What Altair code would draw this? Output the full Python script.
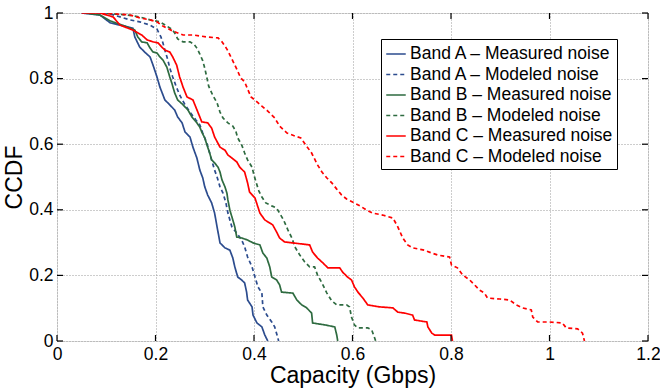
import altair as alt
import pandas as pd

# ---- data (Capacity in Gbps, CCDF) ----
a_meas_x = [0.05, 0.087, 0.108, 0.154, 0.158, 0.168, 0.178, 0.189, 0.195, 0.203, 0.209, 0.219, 0.229, 0.239, 0.245,
            0.254, 0.260, 0.270, 0.276, 0.284, 0.290, 0.296, 0.300, 0.306, 0.314, 0.320, 0.325, 0.331, 0.341, 0.351,
            0.357, 0.361, 0.367, 0.375, 0.381, 0.385, 0.387, 0.396, 0.398, 0.406, 0.416, 0.422, 0.428]
a_meas_y = [1.0, 0.994, 0.970, 0.954, 0.927, 0.896, 0.881, 0.866, 0.841, 0.805, 0.774, 0.735, 0.720, 0.704, 0.683,
            0.665, 0.637, 0.622, 0.591, 0.558, 0.521, 0.497, 0.470, 0.445, 0.421, 0.390, 0.348, 0.299, 0.284, 0.277,
            0.253, 0.226, 0.195, 0.186, 0.177, 0.149, 0.125, 0.104, 0.079, 0.055, 0.043, 0.018, 0.0]

a_mod_x = [0.08, 0.101, 0.128, 0.148, 0.168, 0.189, 0.203, 0.211, 0.215, 0.219, 0.225, 0.229, 0.235, 0.241, 0.249,
           0.260, 0.270, 0.282, 0.290, 0.296, 0.304, 0.310, 0.314, 0.320, 0.325, 0.331, 0.337, 0.343, 0.347, 0.355,
           0.365, 0.375, 0.381, 0.387, 0.396, 0.402, 0.408, 0.416, 0.418, 0.426, 0.436, 0.442, 0.448, 0.450]
a_mod_y = [1.0, 1.0, 0.988, 0.979, 0.973, 0.963, 0.951, 0.927, 0.909, 0.887, 0.857, 0.832, 0.805, 0.780, 0.750,
           0.720, 0.698, 0.674, 0.659, 0.634, 0.604, 0.573, 0.552, 0.521, 0.500, 0.470, 0.451, 0.421, 0.390, 0.348,
           0.329, 0.308, 0.287, 0.256, 0.226, 0.195, 0.165, 0.146, 0.104, 0.079, 0.058, 0.043, 0.012, 0.0]

b_meas_x = [0.057, 0.087, 0.108, 0.138, 0.158, 0.164, 0.172, 0.183, 0.189, 0.195, 0.203, 0.209, 0.215, 0.223, 0.229,
            0.233, 0.239, 0.245, 0.256, 0.266, 0.274, 0.284, 0.290, 0.294, 0.300, 0.306, 0.310, 0.314, 0.320, 0.327,
            0.331, 0.335, 0.341, 0.345, 0.347, 0.351, 0.357, 0.361, 0.365, 0.375, 0.387, 0.398, 0.412, 0.418, 0.426,
            0.432, 0.436, 0.446, 0.452, 0.456, 0.479, 0.487, 0.497, 0.507, 0.517, 0.519, 0.544, 0.564, 0.568, 0.570]
b_meas_y = [1.0, 0.994, 0.976, 0.960, 0.948, 0.927, 0.912, 0.909, 0.893, 0.881, 0.878, 0.866, 0.857, 0.835, 0.805,
            0.787, 0.756, 0.735, 0.720, 0.704, 0.683, 0.665, 0.652, 0.637, 0.619, 0.591, 0.573, 0.552, 0.543, 0.530,
            0.515, 0.491, 0.470, 0.451, 0.430, 0.399, 0.369, 0.348, 0.317, 0.314, 0.308, 0.299, 0.293, 0.268, 0.253,
            0.226, 0.195, 0.186, 0.171, 0.149, 0.146, 0.125, 0.110, 0.101, 0.085, 0.055, 0.049, 0.043, 0.018, 0.0]

b_mod_x = [0.087, 0.142, 0.168, 0.189, 0.209, 0.223, 0.233, 0.239, 0.245, 0.256, 0.270, 0.278, 0.284, 0.290, 0.296,
           0.300, 0.304, 0.308, 0.316, 0.325, 0.331, 0.337, 0.347, 0.357, 0.363, 0.367, 0.375, 0.381, 0.387, 0.396,
           0.400, 0.404, 0.410, 0.416, 0.424, 0.436, 0.446, 0.452, 0.460, 0.469, 0.477, 0.483, 0.493, 0.503, 0.513,
           0.523, 0.529, 0.538, 0.548, 0.558, 0.568, 0.588, 0.594, 0.598, 0.604, 0.611, 0.631, 0.639, 0.645, 0.647]
b_mod_y = [1.0, 0.994, 0.988, 0.979, 0.973, 0.960, 0.951, 0.939, 0.921, 0.912, 0.912, 0.905, 0.893, 0.875, 0.854,
           0.832, 0.805, 0.777, 0.750, 0.726, 0.698, 0.680, 0.665, 0.655, 0.640, 0.619, 0.598, 0.573, 0.552, 0.530,
           0.506, 0.485, 0.457, 0.439, 0.421, 0.412, 0.405, 0.390, 0.369, 0.338, 0.314, 0.287, 0.262, 0.241, 0.226,
           0.226, 0.201, 0.177, 0.146, 0.122, 0.110, 0.110, 0.104, 0.073, 0.049, 0.040, 0.040, 0.034, 0.009, 0.0]

c_meas_x = [0.05, 0.087, 0.114, 0.128, 0.154, 0.172, 0.183, 0.195, 0.205, 0.213, 0.219, 0.229, 0.235, 0.243, 0.249,
            0.256, 0.264, 0.276, 0.294, 0.306, 0.314, 0.320, 0.331, 0.341, 0.347, 0.355, 0.365, 0.371, 0.381, 0.387,
            0.391, 0.402, 0.412, 0.422, 0.438, 0.446, 0.452, 0.462, 0.479, 0.513, 0.519, 0.529, 0.540, 0.550, 0.574,
            0.580, 0.590, 0.598, 0.604, 0.611, 0.621, 0.631, 0.655, 0.682, 0.692, 0.706, 0.722, 0.726, 0.751, 0.753,
            0.761, 0.767, 0.801, 0.803]
c_meas_y = [1.0, 1.0, 0.988, 0.963, 0.948, 0.933, 0.918, 0.912, 0.909, 0.896, 0.887, 0.881, 0.866, 0.841, 0.805,
            0.774, 0.744, 0.735, 0.668, 0.665, 0.649, 0.622, 0.591, 0.582, 0.567, 0.558, 0.546, 0.530, 0.515, 0.482,
            0.454, 0.436, 0.390, 0.369, 0.354, 0.332, 0.314, 0.302, 0.299, 0.293, 0.271, 0.253, 0.238, 0.223, 0.223,
            0.210, 0.195, 0.186, 0.165, 0.149, 0.131, 0.110, 0.104, 0.101, 0.088, 0.085, 0.079, 0.064, 0.058, 0.043,
            0.024, 0.018, 0.018, 0.0]

c_mod_x = [0.09, 0.148, 0.168, 0.189, 0.203, 0.215, 0.235, 0.256, 0.276, 0.304, 0.327, 0.335, 0.345, 0.355, 0.365,
           0.373, 0.381, 0.387, 0.394, 0.404, 0.416, 0.428, 0.442, 0.452, 0.467, 0.483, 0.495, 0.505, 0.517, 0.529,
           0.538, 0.548, 0.558, 0.568, 0.578, 0.588, 0.600, 0.615, 0.629, 0.641, 0.661, 0.682, 0.692, 0.702, 0.712,
           0.722, 0.746, 0.761, 0.773, 0.797, 0.801, 0.813, 0.824, 0.838, 0.848, 0.858, 0.868, 0.874, 0.899, 0.919,
           0.933, 0.945, 0.963, 0.966, 0.976, 1.000, 1.026, 1.034, 1.057, 1.067, 1.071]
c_mod_y = [1.0, 0.994, 0.985, 0.979, 0.973, 0.960, 0.945, 0.933, 0.933, 0.927, 0.924, 0.912, 0.890, 0.860, 0.829,
           0.802, 0.790, 0.768, 0.744, 0.732, 0.716, 0.701, 0.680, 0.655, 0.634, 0.625, 0.619, 0.598, 0.573, 0.537,
           0.515, 0.497, 0.482, 0.463, 0.445, 0.433, 0.424, 0.412, 0.399, 0.390, 0.384, 0.375, 0.348, 0.314, 0.293,
           0.284, 0.277, 0.268, 0.262, 0.256, 0.232, 0.223, 0.201, 0.186, 0.171, 0.155, 0.146, 0.131, 0.128, 0.125,
           0.110, 0.101, 0.095, 0.073, 0.058, 0.058, 0.055, 0.040, 0.037, 0.024, 0.0]

series_names = ["Band A \u2013 Measured noise", "Band A \u2013 Modeled noise",
                "Band B \u2013 Measured noise", "Band B \u2013 Modeled noise",
                "Band C \u2013 Measured noise", "Band C \u2013 Modeled noise"]
series_x = [a_meas_x, a_mod_x, b_meas_x, b_mod_x, c_meas_x, c_mod_x]
series_y = [a_meas_y, a_mod_y, b_meas_y, b_mod_y, c_meas_y, c_mod_y]
colors = ["#2c4c8e", "#2c4c8e", "#2e6b40", "#2e6b40", "#ff0000", "#ff0000"]
dashes = [[1, 0], [4, 3], [1, 0], [4, 3], [1, 0], [4, 3]]

x_ticks = [0, 0.2, 0.4, 0.6, 0.8, 1.0, 1.2]
y_ticks = [0, 0.2, 0.4, 0.6, 0.8, 1.0]

rows = []
for name, xs, ys in zip(series_names, series_x, series_y):
    for i, (xv, yv) in enumerate(zip(xs, ys)):
        rows.append({"series": name, "x": xv, "y": yv, "idx": i})
df = pd.DataFrame(rows)

FONT = "Liberation Sans"
W, H = 591, 328

xscale = alt.Scale(domain=[0, 1.2], nice=False, zero=False)
yscale = alt.Scale(domain=[0, 1], nice=False)

legend = alt.Legend(
    title=None, orient="none", legendX=324, legendY=26,
    symbolType="stroke", symbolSize=380, symbolStrokeWidth=1.6,
    labelFont=FONT, labelFontSize=17.5, labelColor="black", labelOffset=3,
    rowPadding=0.5, padding=4, strokeColor="black", fillColor="white",
    labelLimit=400,
)

lines = alt.Chart(df).mark_line(strokeWidth=1.7, clip=True).encode(
    x=alt.X("x:Q", scale=xscale,
            axis=alt.Axis(values=x_ticks, format="~g", title="Capacity (Gbps)", grid=True,
                          gridDash=[1, 2], gridColor="#9a9a9a", gridWidth=1,
                          ticks=False, domain=False, labelFont=FONT, labelFontSize=17.5,
                          labelColor="black", labelPadding=4, labelFlush=False,
                          titleFont=FONT, titleFontSize=23, titleFontWeight="normal",
                          titleColor="black", titlePadding=2)),
    y=alt.Y("y:Q", scale=yscale,
            axis=alt.Axis(values=y_ticks, format="~g", title="CCDF", grid=True,
                          gridDash=[1, 2], gridColor="#9a9a9a", gridWidth=1,
                          ticks=False, domain=False, labelFont=FONT, labelFontSize=17.5,
                          labelColor="black", labelPadding=4, labelFlush=False,
                          titleFont=FONT, titleFontSize=23, titleFontWeight="normal",
                          titleColor="black", titlePadding=2)),
    color=alt.Color("series:N", scale=alt.Scale(domain=series_names, range=colors), legend=legend),
    strokeDash=alt.StrokeDash("series:N", scale=alt.Scale(domain=series_names, range=dashes), legend=legend),
    order=alt.Order("idx:Q"),
)

xt = pd.DataFrame({"v": x_ticks})
yt = pd.DataFrame({"v": y_ticks})
tick_bottom = alt.Chart(xt).mark_rule(color="black", strokeWidth=1.2).encode(
    x=alt.X("v:Q", scale=xscale), y=alt.value(H), y2=alt.value(H - 6))
tick_top = alt.Chart(xt).mark_rule(color="black", strokeWidth=1.2).encode(
    x=alt.X("v:Q", scale=xscale), y=alt.value(0), y2=alt.value(6))
tick_left = alt.Chart(yt).mark_rule(color="black", strokeWidth=1.2).encode(
    y=alt.Y("v:Q", scale=yscale), x=alt.value(0), x2=alt.value(6))
tick_right = alt.Chart(yt).mark_rule(color="black", strokeWidth=1.2).encode(
    y=alt.Y("v:Q", scale=yscale), x=alt.value(W), x2=alt.value(W - 6))

chart = alt.layer(lines, tick_bottom, tick_top, tick_left, tick_right).properties(
    width=W, height=H,
    autosize=alt.AutoSizeParams(type="none"),
    padding={"left": 57, "top": 13, "right": 12, "bottom": 48},
).configure_view(stroke="black", strokeWidth=2).configure(background="white")

chart.save("out.html", embed_options={"renderer": "svg", "actions": False})
